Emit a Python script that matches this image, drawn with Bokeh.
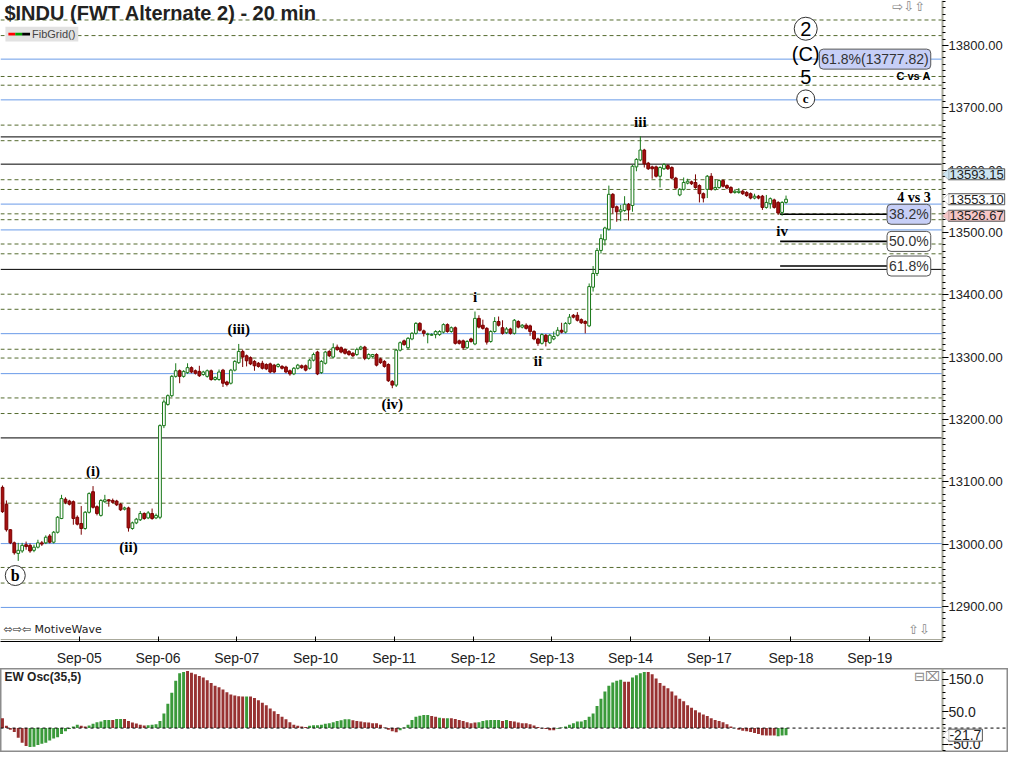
import numpy as np
from bokeh.plotting import figure
from bokeh.models import (Range1d, FixedTicker, SingleIntervalTicker, NumeralTickFormatter,
                          Label, ColumnDataSource, PolyAnnotation, BoxAnnotation, LinearAxis)
from bokeh.layouts import column
from bokeh.embed import file_html
from bokeh.resources import INLINE
from bokeh.core.properties import value

# ---------------- data (20-minute bars, one line = one trading day) ----------------
opens = [
    13091, 13064, 13023, 13002, 12985, 12989, 12999, 12998, 12990, 12995, 13002, 13002, 13013, 13003, 13019, 13041, 13072, 13069, 13068, 13043,
    13033, 13025, 13051, 13084, 13060, 13046, 13068, 13071, 13070, 13069, 13064, 13056, 13058, 13025, 13034, 13039, 13049, 13042, 13049, 13042,
    13043, 13190, 13224, 13238, 13269, 13278, 13269, 13275, 13283, 13278, 13277, 13272, 13269, 13278, 13264, 13264, 13279, 13260, 13258, 13279,
    13291, 13309, 13302, 13299, 13293, 13290, 13290, 13288, 13289, 13287, 13285, 13285, 13284, 13278, 13273, 13282, 13286, 13286, 13282, 13295,
    13308, 13275, 13290, 13309, 13300, 13316, 13315, 13312, 13309, 13306, 13304, 13313, 13316, 13298, 13301, 13304, 13297, 13293, 13288, 13261,
    13255, 13311, 13326, 13315, 13329, 13338, 13354, 13342, 13336, 13335, 13336, 13336, 13340, 13352, 13341, 13347, 13326, 13326, 13315, 13329,
    13321, 13362, 13351, 13346, 13325, 13341, 13357, 13347, 13339, 13345, 13338, 13357, 13348, 13351, 13350, 13341, 13329, 13322, 13335, 13323,
    13329, 13335, 13343, 13340, 13354, 13367, 13367, 13360, 13357, 13350, 13412, 13434, 13471, 13488, 13505, 13561, 13541, 13533, 13535, 13545,
    13543, 13605, 13616, 13632, 13611, 13605, 13605, 13590, 13602, 13607, 13604, 13587, 13560, 13569, 13579, 13581, 13580, 13575, 13562, 13569,
    13590, 13569, 13572, 13583, 13575, 13572, 13564, 13564, 13566, 13564, 13562, 13555, 13558, 13558, 13540, 13546, 13552, 13548, 13532, 13548,
]
highs = [
    13094, 13070, 13024, 13004, 13002, 13002, 13004, 13001, 12999, 13007, 13005, 13014, 13016, 13021, 13045, 13079, 13075, 13071, 13070, 13046,
    13061, 13053, 13083, 13093, 13062, 13072, 13079, 13072, 13073, 13071, 13066, 13060, 13060, 13036, 13042, 13053, 13051, 13053, 13057, 13049,
    13192, 13232, 13240, 13271, 13290, 13280, 13279, 13290, 13285, 13280, 13286, 13278, 13280, 13280, 13269, 13280, 13281, 13262, 13281, 13295,
    13321, 13312, 13304, 13301, 13295, 13292, 13294, 13290, 13291, 13289, 13290, 13287, 13286, 13280, 13284, 13289, 13288, 13288, 13297, 13307,
    13310, 13295, 13310, 13311, 13322, 13320, 13317, 13314, 13311, 13308, 13315, 13318, 13318, 13306, 13305, 13306, 13299, 13295, 13290, 13263,
    13313, 13325, 13328, 13332, 13340, 13356, 13356, 13344, 13339, 13338, 13343, 13343, 13354, 13354, 13349, 13349, 13328, 13328, 13327, 13331,
    13373, 13367, 13360, 13348, 13343, 13364, 13365, 13359, 13348, 13347, 13361, 13359, 13353, 13354, 13352, 13343, 13331, 13338, 13337, 13337,
    13341, 13348, 13355, 13356, 13369, 13369, 13372, 13362, 13359, 13418, 13446, 13475, 13497, 13509, 13575, 13563, 13543, 13544, 13558, 13547,
    13608, 13619, 13654, 13634, 13613, 13607, 13607, 13606, 13611, 13609, 13606, 13589, 13571, 13588, 13586, 13583, 13593, 13577, 13564, 13592,
    13595, 13585, 13585, 13585, 13577, 13574, 13569, 13571, 13568, 13566, 13564, 13562, 13560, 13560, 13560, 13556, 13554, 13550, 13550, 13559,
]
lows = [
    13050, 13020, 13000, 12983, 12973, 12986, 12991, 12986, 12987, 12993, 12997, 13000, 13001, 13001, 13017, 13040, 13064, 13062, 13031, 13030,
    13015, 13023, 13049, 13057, 13046, 13044, 13066, 13060, 13065, 13061, 13053, 13054, 13020, 13023, 13032, 13037, 13039, 13040, 13039, 13040,
    13040, 13186, 13222, 13236, 13267, 13258, 13267, 13273, 13274, 13272, 13268, 13270, 13267, 13262, 13262, 13262, 13252, 13253, 13256, 13277,
    13289, 13284, 13285, 13287, 13278, 13283, 13280, 13279, 13274, 13274, 13283, 13280, 13274, 13270, 13271, 13280, 13281, 13277, 13280, 13293,
    13271, 13273, 13288, 13300, 13298, 13310, 13306, 13304, 13302, 13300, 13302, 13311, 13295, 13296, 13299, 13285, 13289, 13283, 13260, 13250,
    13252, 13309, 13318, 13312, 13327, 13336, 13341, 13333, 13322, 13334, 13330, 13334, 13338, 13339, 13339, 13320, 13320, 13312, 13313, 13323,
    13319, 13346, 13344, 13320, 13323, 13339, 13349, 13336, 13337, 13336, 13336, 13346, 13346, 13344, 13334, 13327, 13318, 13320, 13317, 13321,
    13327, 13333, 13338, 13338, 13352, 13362, 13357, 13353, 13338, 13348, 13405, 13430, 13466, 13479, 13503, 13530, 13517, 13518, 13533, 13519,
    13533, 13598, 13614, 13604, 13600, 13586, 13588, 13572, 13600, 13600, 13585, 13570, 13558, 13567, 13577, 13576, 13570, 13548, 13548, 13555,
    13567, 13567, 13570, 13572, 13569, 13562, 13562, 13562, 13560, 13557, 13553, 13553, 13553, 13536, 13538, 13538, 13538, 13528, 13526.67, 13546,
]
closes = [
    13052, 13023, 13002, 12986, 12990, 12998, 12996, 12989, 12995, 13002, 13000, 13011, 13003, 13019, 13043, 13073, 13067, 13064, 13041, 13032,
    13025, 13051, 13081, 13059, 13049, 13070, 13071, 13069, 13067, 13063, 13055, 13058, 13026, 13034, 13040, 13049, 13041, 13050, 13041, 13046,
    13190, 13228, 13238, 13269, 13278, 13269, 13277, 13283, 13276, 13274, 13270, 13276, 13278, 13264, 13267, 13276, 13258, 13256, 13279, 13293,
    13309, 13300, 13294, 13289, 13286, 13285, 13282, 13281, 13276, 13276, 13288, 13282, 13276, 13273, 13282, 13287, 13283, 13279, 13295, 13304,
    13273, 13293, 13308, 13302, 13315, 13312, 13308, 13306, 13304, 13302, 13312, 13316, 13298, 13304, 13304, 13287, 13291, 13285, 13262, 13255,
    13311, 13323, 13320, 13330, 13338, 13354, 13343, 13338, 13337, 13336, 13341, 13341, 13352, 13341, 13347, 13322, 13322, 13315, 13325, 13325,
    13362, 13348, 13346, 13324, 13341, 13357, 13351, 13338, 13345, 13338, 13359, 13348, 13351, 13346, 13341, 13329, 13322, 13336, 13325, 13335,
    13333, 13343, 13340, 13354, 13364, 13364, 13359, 13355, 13354, 13413, 13434, 13471, 13490, 13507, 13561, 13540, 13533, 13536, 13545, 13536,
    13606, 13617, 13632, 13610, 13602, 13602, 13590, 13604, 13609, 13602, 13587, 13571, 13569, 13580, 13582, 13578, 13572, 13562, 13555, 13590,
    13569, 13572, 13583, 13574, 13571, 13564, 13566, 13566, 13562, 13559, 13555, 13558, 13555, 13540, 13548, 13554, 13540, 13531, 13548, 13553.10,
]

# EW oscillator (35,5) per bar, and its colour state (1 = green, -1 = red)
osc = [
    30, 7, -5, -12, -30, -45, -55, -58, -57, -52, -48, -45, -38, -32, -28, -18, -10, -3, 5, 10,
    7, 5, 8, 13, 18, 20, 25, 25, 25, 28, 28, 28, 22, 17, 14, 10, 8, 9, 10, 12,
    22, 45, 75, 108, 145, 168, 172, 175, 170, 165, 160, 155, 147, 138, 130, 125, 118, 110, 103, 100,
    98, 97, 97, 97, 92, 85, 78, 70, 60, 52, 43, 35, 27, 18, 10, 7, 5, 3, 7, 9,
    9, 10, 13, 15, 18, 22, 24, 27, 27, 24, 22, 20, 18, 17, 15, 15, 10, 2, -5, -10,
    -13, -7, 2, 10, 25, 35, 38, 40, 40, 37, 35, 32, 30, 30, 30, 28, 25, 22, 18, 15,
    17, 18, 22, 24, 25, 25, 25, 22, 25, 22, 20, 17, 15, 15, 12, 8, 3, -1, -3, -7,
    -7, -2, 2, 5, 10, 15, 20, 20, 25, 35, 45, 68, 90, 112, 130, 140, 145, 148, 142, 142,
    155, 162, 168, 172, 172, 165, 152, 138, 130, 122, 112, 100, 90, 82, 70, 62, 55, 48, 42, 37,
    30, 25, 22, 18, 12, 5, 0, -5, -8, -10, -12, -15, -18, -22, -23, -23, -23, -25, -23, -21.7,
]
osc_dir = [
    -1, -1, -1, -1, -1, -1, -1, 1, 1, 1, 1, 1, 1, 1, 1, 1, 1, 1, 1, 1,
    -1, -1, 1, 1, 1, 1, 1, 1, -1, 1, 1, -1, -1, -1, -1, -1, -1, 1, 1, 1,
    1, 1, 1, 1, 1, 1, 1, -1, -1, -1, -1, -1, -1, -1, -1, -1, -1, -1, -1, -1,
    -1, -1, 1, -1, -1, -1, -1, -1, -1, -1, -1, -1, -1, -1, -1, -1, -1, -1, 1, 1,
    1, 1, 1, 1, 1, 1, 1, 1, 1, -1, -1, -1, -1, -1, -1, -1, -1, -1, -1, -1,
    -1, 1, 1, 1, 1, 1, 1, 1, 1, -1, -1, 1, -1, 1, -1, -1, -1, -1, -1, -1,
    -1, 1, 1, 1, 1, 1, 1, -1, 1, -1, -1, -1, -1, -1, -1, -1, -1, -1, -1, -1,
    -1, 1, 1, 1, 1, 1, 1, 1, 1, 1, 1, 1, 1, 1, 1, 1, 1, 1, -1, -1,
    1, 1, 1, 1, -1, -1, -1, -1, -1, -1, -1, -1, -1, -1, -1, -1, -1, -1, -1, -1,
    -1, -1, -1, -1, -1, -1, -1, -1, -1, -1, -1, -1, -1, -1, -1, -1, -1, 1, 1, 1,
]

day_ticks = [19.5, 39.5, 59.5, 79.5, 99.5, 119.5, 139.5, 159.5, 179.5, 200.25, 220.25]
day_labels = ["Sep-05", "Sep-06", "Sep-07", "Sep-10", "Sep-11", "Sep-12",
              "Sep-13", "Sep-14", "Sep-17", "Sep-18", "Sep-19"]

grid_dashed = [13840.6, 13815.6, 13750.0, 13736.0, 13672.0, 13647.0, 13584.4, 13568.8,
               13529.7, 13520.3, 13481.3, 13465.6, 13400.8, 13376.6, 13312.5, 13298.4,
               13234.4, 13209.4, 13105.5, 13065.6, 12962.5, 12937.5]
grid_blue = [13777.82, 13712.5, 13545.3, 13503.9, 13337.5, 13273.4, 13000.8, 12898.4]
grid_black = [13653.1, 13609.4, 13440.6, 13170.3]

retr_labels = ["38.2%", "50.0%", "61.8%"]
retr_prices = [13529.0, 13485.5, 13446.0]
retr_from_bar = 197.5

wave_labels = ["iii", "iv", "i", "ii", "(iii)", "(iv)", "(i)", "(ii)"]
wave_bars = [162, 198, 120, 136, 60, 99, 23, 32]
wave_side = [1, -1, 1, -1, 1, -1, 1, -1]
circled_label, circled_bar = "b", 4

proj_bar = 204
proj_labels = ["2", "(C)", "5", "c"]
proj_prices = [13826.6, 13786.0, 13748.4, 13714.0]

target_text, target_price = "61.8%(13777.82)", 13777.82
price_marks = [13593.15, 13553.10, 13526.67]
osc_last = -21.7

# ---------------- layout helpers ----------------
X0 = -0.5
UPP = 1.5625            # price units per reference pixel


def fx(px):             # reference-pixel column -> bar coordinate
    return X0 + px / 4.0


def fy(py):             # reference-pixel row -> price coordinate
    return 13500 + (238 - py) * UPP


def oy(py):             # reference-pixel row -> oscillator coordinate
    return (743.3 - py) / 0.33


XAX = fx(957)           # where the price scale sits
FONT = "Liberation Sans"
SERIF = "Liberation Serif"
SYM = "DejaVu Sans"
OLIVE = "#556b2f"
BLUE = "#6a9be8"
GREEN = "#187818"
RED_F = "#a50f0f"
RED_L = "#7a0000"
FRAME = "#a6a698"

W = 1008
MAIN_H, OSC_H = 668, 84
XR = Range1d(X0, fx(1024))

# ---------------- main price panel ----------------
p = figure(width=W, height=MAIN_H, x_range=XR, y_range=Range1d(fy(658), fy(0)),
           output_backend="svg", toolbar_location=None, y_axis_location=None,
           min_border_left=0, min_border_right=0, min_border_top=0, min_border_bottom=25)
p.xgrid.visible = False
p.ygrid.visible = False
p.outline_line_color = None

ya = LinearAxis(fixed_location=XAX)
ya.ticker = SingleIntervalTicker(interval=100, num_minor_ticks=10)
ya.formatter = NumeralTickFormatter(format="0.00")
ya.axis_line_color = FRAME
ya.axis_line_width = 2
ya.major_tick_out, ya.major_tick_in = 6, 0
ya.minor_tick_out, ya.minor_tick_in = 3, 0
ya.major_label_standoff = 0
ya.major_label_text_font = FONT
ya.major_label_text_font_size = "13px"
ya.major_label_text_color = "#222222"
p.add_layout(ya, "right")

xa = p.xaxis[0]
xa.bounds = (X0, XAX)
xa.ticker = FixedTicker(ticks=day_ticks)
xa.major_label_overrides = {t: s for t, s in zip(day_ticks, day_labels)}
xa.axis_line_color = "black"
xa.major_tick_in, xa.major_tick_out = 5, 0
xa.minor_tick_line_color = None
xa.major_label_standoff = 8
xa.major_label_text_font = FONT
xa.major_label_text_font_size = "14px"
xa.major_label_text_color = "#222222"

# horizontal grid levels (stop at the price scale)
for levels, col, dash in ((grid_dashed, OLIVE, "4 3"), (grid_blue, BLUE, "solid"),
                          (grid_black, "black", "solid")):
    p.segment(x0=[X0] * len(levels), y0=levels, x1=[XAX] * len(levels), y1=levels,
              line_color=col, line_dash=dash, line_width=1)

# frame bottom edge
p.segment(x0=[X0], y0=[fy(656)], x1=[XAX], y1=[fy(656)], line_color=FRAME, line_width=1)

# retracement lines
p.segment(x0=[retr_from_bar] * len(retr_prices), y0=retr_prices,
          x1=[fx(903)] * len(retr_prices), y1=retr_prices, line_color="black", line_width=1.6)

# candles
o, h, l, c = (np.array(a, dtype=float) for a in (opens, highs, lows, closes))
idx = np.arange(len(c))
up = c >= o
dn = ~up
src_up = ColumnDataSource(dict(x=idx[up], o=o[up], h=h[up], l=l[up], c=c[up]))
src_dn = ColumnDataSource(dict(x=idx[dn], o=o[dn], h=h[dn], l=l[dn], c=c[dn]))
p.segment(x0="x", y0="h", x1="x", y1="l", source=src_up, line_color=GREEN, line_width=1)
p.vbar(x="x", width=0.7, top="c", bottom="o", source=src_up,
       fill_color="white", line_color=GREEN, line_width=1)
p.segment(x0="x", y0="h", x1="x", y1="l", source=src_dn, line_color=RED_L, line_width=1)
p.vbar(x="x", width=0.7, top="o", bottom="c", source=src_dn,
       fill_color=RED_F, line_color=RED_L, line_width=1)

# wave labels (placed above highs / below lows)
wy = [h[b] + 15 * UPP if s > 0 else l[b] - 16 * UPP for b, s in zip(wave_bars, wave_side)]
p.text(x=wave_bars, y=wy, text=wave_labels, text_font=value(SERIF), text_font_style="bold",
       text_font_size="15px", text_align="center", text_baseline="middle", text_color="black")

# circled b
by = l[circled_bar] - 15 * UPP
p.scatter(x=[circled_bar - 0.75], y=[by], marker="circle", size=20,
          fill_color="white", line_color="#333333", line_width=1)
p.text(x=[circled_bar - 0.75], y=[by], text=[circled_label], text_font=value(SERIF),
       text_font_style="bold", text_font_size="16px", text_align="center",
       text_baseline="middle", text_color="black")

# projected labels on the right
p.scatter(x=[proj_bar, proj_bar], y=[proj_prices[0], proj_prices[3]], marker="circle",
          size=[23, 18], fill_color="white", line_color="#333333", line_width=1)
p.text(x=[proj_bar] * 3, y=proj_prices[:3], text=proj_labels[:3], text_font=value(FONT),
       text_font_size="20px", text_align="center", text_baseline="middle", text_color="black")
p.text(x=[proj_bar], y=[proj_prices[3]], text=[proj_labels[3]], text_font=value(SERIF),
       text_font_style="bold", text_font_size="13px", text_align="center",
       text_baseline="middle", text_color="black")

# boxes
BOX = dict(text_font=FONT, text_font_size="14px", text_color="#333333", text_align="right",
           text_baseline="middle", border_line_color="#555555", border_line_width=1,
           padding=2, border_radius=4)
p.add_layout(Label(x=fx(945), y=target_price, text=target_text,
                   background_fill_color="#c7cff7", **BOX))
for t, v, fc in zip(retr_labels, retr_prices, ["#c7cff7", "white", "white"]):
    p.add_layout(Label(x=fx(945), y=v, text=t, background_fill_color=fc, **BOX))

p.add_layout(Label(x=fx(945), y=fy(78), text="C vs A", text_font=FONT, text_font_style="bold",
                   text_font_size="11px", text_align="right", text_baseline="middle",
                   text_color="black"))
p.add_layout(Label(x=fx(945), y=fy(202), text="4 vs 3", text_font=SERIF, text_font_style="bold",
                   text_font_size="14px", text_align="right", text_baseline="middle",
                   text_color="black"))

# title & chrome
p.add_layout(Label(x=fx(4), y=fy(13), text="$INDU (FWT Alternate 2) - 20 min", text_font=FONT,
                   text_font_style="bold", text_font_size="20px", text_align="left",
                   text_baseline="middle", text_color="#222222"))
p.add_layout(BoxAnnotation(left=fx(5), right=fx(79), top=fy(27), bottom=fy(42),
                           fill_color="#e2e2e2", fill_alpha=1, line_color=None))
for a, b, col in ((8, 15, "#ff0000"), (15, 22, "#00a000"), (22, 30, "#000000")):
    p.add_layout(BoxAnnotation(left=fx(a), right=fx(b), top=fy(33), bottom=fy(36),
                               fill_color=col, fill_alpha=1, line_color=None))
p.add_layout(Label(x=fx(32), y=fy(34.5), text="FibGrid()", text_font=FONT, text_font_size="11px",
                   text_align="left", text_baseline="middle", text_color="#444444"))
p.add_layout(Label(x=fx(906), y=fy(6), text="⇨⇩⇧", text_font=SYM, text_font_size="13px",
                   text_align="left", text_baseline="middle", text_color="#888888"))
p.add_layout(Label(x=fx(3), y=fy(646), text="⬄⇨⇦ MotiveWave", text_font=SYM,
                   text_font_size="11px", text_align="left", text_baseline="middle",
                   text_color="#222222"))
p.add_layout(Label(x=fx(922), y=fy(646), text="⇧⇩", text_font=SYM, text_font_size="13px",
                   text_align="left", text_baseline="middle", text_color="#888888"))

# last-value markers on the price scale
for v, fc in zip(price_marks, ["#cde5f2", "white", "#f6c6c6"]):
    p.add_layout(Label(x=fx(963), y=v, text=f"{v:.2f}", text_font=FONT, text_font_size="13px",
                       text_color="#222222", text_align="left", text_baseline="middle",
                       background_fill_color=fc, border_line_color="#555555", padding=1))
    p.add_layout(PolyAnnotation(xs=[fx(957), fx(963.5), fx(963.5)], ys=[v, v + 6 * UPP, v - 6 * UPP],
                                fill_color=fc, fill_alpha=1, line_color="#555555", line_width=1))

# ---------------- oscillator panel ----------------
q = figure(width=W, height=OSC_H, x_range=XR, y_range=Range1d(oy(768), oy(683)),
           output_backend="svg", toolbar_location=None, y_axis_location=None,
           x_axis_location=None, min_border_left=0, min_border_right=0,
           min_border_top=0, min_border_bottom=0)
q.xgrid.visible = False
q.ygrid.visible = False
q.outline_line_color = "#8c8c8c"
q.outline_line_width = 2
qa = LinearAxis(fixed_location=XAX)
qa.ticker = FixedTicker(ticks=[-50, 50, 150], minor_ticks=list(range(-70, 180, 20)))
qa.formatter = NumeralTickFormatter(format="0.0")
qa.axis_line_color = FRAME
qa.axis_line_width = 2
qa.major_tick_out, qa.major_tick_in = 6, 0
qa.minor_tick_out, qa.minor_tick_in = 3, 0
qa.major_label_standoff = 0
qa.major_label_text_font = FONT
qa.major_label_text_font_size = "14px"
qa.major_label_text_color = "#222222"
q.add_layout(qa, "right")

osc_colors = ["#3a9a3a" if d > 0 else "#983232" for d in osc_dir]
q.vbar(x=idx, top=osc, bottom=0, width=0.75, fill_color=osc_colors, line_color=None)
q.segment(x0=[X0], y0=[0], x1=[fx(1024)], y1=[0], line_color="black", line_dash="3 3",
          line_width=1)
q.add_layout(Label(x=fx(4), y=oy(692), text="EW Osc(35,5)", text_font=FONT, text_font_style="bold",
                   text_font_size="12px", text_align="left", text_baseline="middle",
                   text_color="#222222"))
q.add_layout(Label(x=fx(928), y=oy(691), text="⊟⌧", text_font=SYM, text_font_size="13px",
                   text_align="left", text_baseline="middle", text_color="#888888"))
q.add_layout(Label(x=fx(963), y=osc_last, text=f"{osc_last:.1f}", text_font=FONT,
                   text_font_size="14px", text_color="#222222", text_align="left",
                   text_baseline="middle", background_fill_color="white",
                   border_line_color="#555555", padding=1))
q.add_layout(PolyAnnotation(xs=[fx(957), fx(963.5), fx(963.5)],
                            ys=[osc_last, osc_last + 18, osc_last - 18],
                            fill_color="white", fill_alpha=1, line_color="#555555", line_width=1))

layout = column(p, q, spacing=0)
open("out.html", "w").write(file_html(layout, INLINE))
